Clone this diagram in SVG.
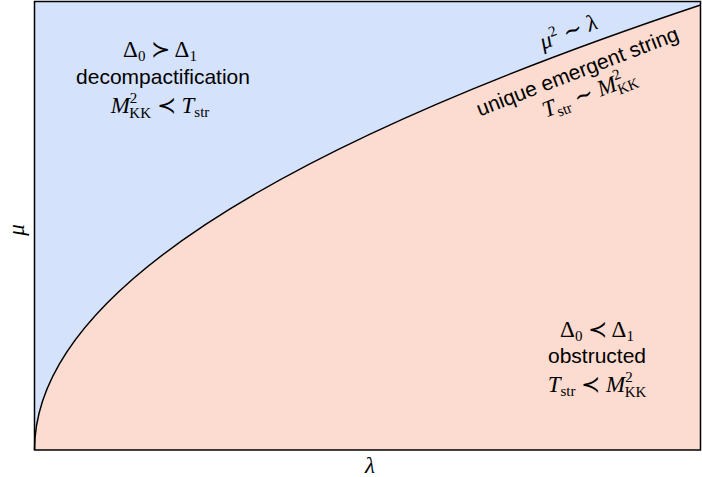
<svg xmlns="http://www.w3.org/2000/svg" width="702" height="477" viewBox="0 0 702 477">
<style>
.sans{font-family:"Liberation Sans","DejaVu Sans",sans-serif;font-size:21px;fill:#000}
.m{font-family:"Liberation Serif","DejaVu Serif",serif;font-size:23px;fill:#000}
.i{font-style:italic}
.sub{font-size:15px}
</style>
<rect x="0" y="0" width="702" height="477" fill="#fff"/>
<g id="regions">
<path id="upper" d="M34.5,450 Q34.5,227.5 700.5,5 L700.5,1.5 L34.5,1.5 Z" fill="#d5e2fc"/>
<path id="lower" d="M34.5,450 Q34.5,227.5 700.5,5 L700.5,450 Z" fill="#fcdbd0"/>
</g>
<g id="connectors">
<path id="curve" d="M34.5,450 Q34.5,227.5 700.5,5" fill="none" stroke="#000" stroke-width="1.5"/>
</g>
<g id="frame">
<rect x="34.5" y="1.5" width="666" height="448.5" fill="none" stroke="#000" stroke-width="1.5"/>
</g>
<g id="label-top" text-anchor="middle">
<text class="m" x="160" y="57">Δ<tspan class="sub" dy="4">0</tspan><tspan dy="-4"> ≻ Δ</tspan><tspan class="sub" dy="4">1</tspan></text>
<text class="sans" x="163" y="84">decompactification</text>
<text class="m" x="160" y="113"><tspan class="i">M</tspan><tspan class="sub" dy="-10">2</tspan><tspan class="sub" dx="-8" dy="15">KK</tspan><tspan dy="-5"> ≺ </tspan><tspan class="i">T</tspan><tspan class="sub" dy="4">str</tspan></text>
</g>
<g id="label-bottom" text-anchor="middle">
<text class="m" x="597" y="337">Δ<tspan class="sub" dy="4">0</tspan><tspan dy="-4"> ≺ Δ</tspan><tspan class="sub" dy="4">1</tspan></text>
<text class="sans" x="597" y="363">obstructed</text>
<text class="m" x="597" y="392"><tspan class="i">T</tspan><tspan class="sub" dy="4">str</tspan><tspan dy="-4"> ≺ </tspan><tspan class="i">M</tspan><tspan class="sub" dy="-10">2</tspan><tspan class="sub" dx="-8" dy="15">KK</tspan></text>
</g>
<g id="label-curve" text-anchor="middle">
<text class="m" transform="translate(571,39) rotate(-21)"><tspan class="i">μ</tspan><tspan class="sub" dy="-9">2</tspan><tspan dy="9"> ∼ </tspan><tspan class="i">λ</tspan></text>
<text class="sans" transform="translate(580,78) rotate(-21)">unique emergent string</text>
<text class="m" transform="translate(592,100) rotate(-21)"><tspan class="i">T</tspan><tspan class="sub" dy="4">str</tspan><tspan dy="-4"> ∼ </tspan><tspan class="i">M</tspan><tspan class="sub" dy="-10">2</tspan><tspan class="sub" dx="-8" dy="15">KK</tspan></text>
</g>
<g id="axes">
<text class="m i" x="370" y="473" text-anchor="middle">λ</text>
<text class="m i" transform="translate(24,230) rotate(-90)" text-anchor="middle">μ</text>
</g>
</svg>
